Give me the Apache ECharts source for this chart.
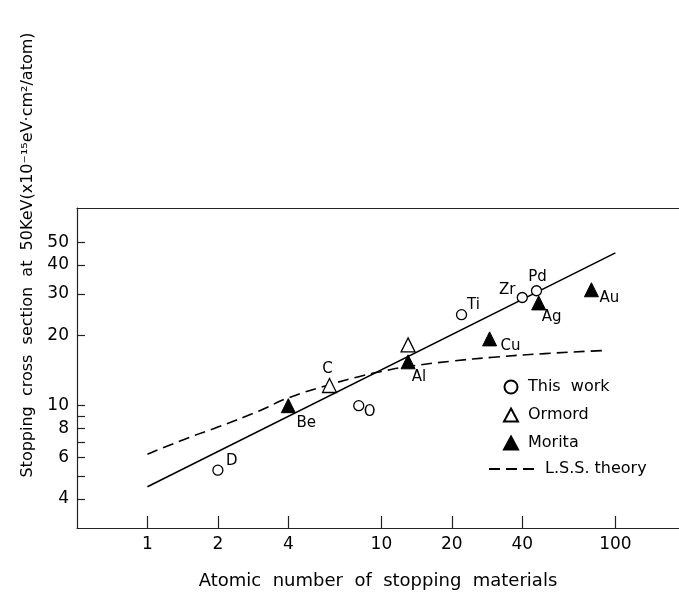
<!DOCTYPE html>
<html>
<head>
<meta charset="utf-8">
<script src="https://cdn.jsdelivr.net/npm/echarts@6/dist/echarts.min.js"></script>
<style>
html,body{margin:0;padding:0;background:#fff;}
#stopping{width:679px;height:596px;}
</style>
</head>
<body>
<div id="stopping"></div>
<script>
// values: atomic number Z, stopping cross section S
const thisWorkNames = ['D', 'O', 'Ti', 'Zr', 'Pd'];
const thisWorkZ = [2, 8, 22, 40, 46];
const thisWorkS = [5.3, 10.0, 24.5, 29.0, 31.0];

const ormordNames = ['C', 'Al'];
const ormordZ = [6, 13];
const ormordS = [12.2, 18.2];

const moritaNames = ['Be', 'Al', 'Cu', 'Ag', 'Au'];
const moritaZ = [4, 13, 29, 47, 79];
const moritaS = [10.0, 15.4, 19.3, 27.5, 31.3];

// solid straight line, end points
const fitZ = [1, 100];
const fitS = [4.5, 45];

// L.S.S. theory (dashed)
const lssZ = [1, 1.5, 2, 3, 4, 6, 8, 10, 13, 20, 30, 50, 88];
const lssS = [6.2, 7.3, 8.1, 9.5, 10.8, 12.3, 13.3, 14.0, 14.7, 15.5, 16.1, 16.7, 17.2];

const xTicks = [1, 2, 4, 10, 20, 40, 100];
const yLabels = [4, 6, 8, 10, 20, 30, 40, 50];
const yTicks = [4, 5, 6, 7, 8, 9, 10, 20, 30, 40, 50];

// where each element label sits relative to its marker
const labelOffsets = {
    'This work': {D: [14, -9], O: [11, 6], Ti: [12, -10], Zr: [-15, -7], Pd: [1, -14]},
    'Ormord': {C: [-2, -16]},
    'Morita': {Be: [18, 17], Al: [11, 15], Cu: [21, 7], Ag: [13, 14], Au: [18, 8]}
};
const legendText = {'This work': 'This  work', 'Ormord': 'Ormord', 'Morita': 'Morita', 'L.S.S. theory': 'L.S.S. theory'};

const font = 'DejaVu Sans';

function points(seriesName, names, zs, ss) {
    return zs.map(function (z, i) {
        const off = labelOffsets[seriesName][names[i]];
        return {
            name: names[i],
            value: [z, ss[i]],
            label: off ? {
                show: true,
                formatter: names[i],
                position: 'inside',
                offset: off,
                color: '#000',
                fontSize: 15,
                fontFamily: font
            } : {show: false}
        };
    });
}

function pairs(xs, ys) {
    return xs.map(function (x, i) { return [x, ys[i]]; });
}

let myChart = echarts.init(document.getElementById('stopping'));

const option = {
    animation: false,
    backgroundColor: '#fff',
    textStyle: {fontFamily: font, color: '#000'},
    grid: {left: 77, right: 0, top: 208, bottom: 68},
    legend: [
        {
            data: ['This work', 'Ormord', 'Morita'],
            formatter: function (n) { return legendText[n]; },
            orient: 'vertical',
            left: 498,
            top: 374,
            itemWidth: 14,
            itemHeight: 13,
            itemGap: 12,
            textStyle: {fontSize: 16, fontFamily: font, color: '#000', padding: [0, 0, 0, 5]}
        },
        {
            data: ['L.S.S. theory'],
            left: 483,
            top: 456,
            itemWidth: 51,
            itemHeight: 14,
            itemStyle: {opacity: 0},
            lineStyle: {opacity: 1},
            textStyle: {fontSize: 16, fontFamily: font, color: '#000'}
        }
    ],
    xAxis: [
        {
            type: 'log',
            logBase: 10,
            min: 0.5,
            max: 187,
            position: 'bottom',
            name: 'Atomic  number  of  stopping  materials',
            nameLocation: 'middle',
            nameGap: 44,
            nameTextStyle: {fontSize: 18, fontFamily: font, color: '#000'},
            axisLine: {lineStyle: {color: '#222', width: 1.2}},
            axisTick: {inside: true, length: 12, customValues: xTicks, lineStyle: {color: '#222', width: 1.2}},
            axisLabel: {customValues: xTicks, fontSize: 17, color: '#000', margin: 8},
            splitLine: {show: false},
            minorTick: {show: false}
        },
        {
            type: 'log',
            logBase: 10,
            min: 0.5,
            max: 187,
            position: 'top',
            axisLine: {lineStyle: {color: '#222', width: 1.2}},
            axisTick: {show: false},
            axisLabel: {show: false},
            splitLine: {show: false}
        }
    ],
    yAxis: {
        type: 'log',
        logBase: 10,
        min: 3,
        max: 70,
        axisLine: {show: true, lineStyle: {color: '#222', width: 1.2}},
        axisTick: {show: true, inside: true, length: 8, customValues: yTicks, lineStyle: {color: '#222', width: 1.2}},
        axisLabel: {customValues: yLabels, fontSize: 17, color: '#000', margin: 8},
        splitLine: {show: false}
    },
    series: [
        {
            name: 'fit',
            type: 'line',
            data: pairs(fitZ, fitS),
            symbol: 'none',
            lineStyle: {color: '#000', width: 1.6},
            silent: true
        },
        {
            name: 'L.S.S. theory',
            type: 'line',
            data: pairs(lssZ, lssS),
            smooth: true,
            symbol: 'none',
            itemStyle: {color: '#000'},
            lineStyle: {color: '#000', width: 1.6, type: [11, 6]}
        },
        {
            name: 'This work',
            type: 'scatter',
            symbol: 'circle',
            symbolSize: 10,
            itemStyle: {color: '#fff', borderColor: '#000', borderWidth: 1.3, opacity: 1},
            data: points('This work', thisWorkNames, thisWorkZ, thisWorkS),
            z: 5
        },
        {
            name: 'Ormord',
            type: 'scatter',
            symbol: 'triangle',
            symbolSize: 14,
            itemStyle: {color: '#fff', borderColor: '#000', borderWidth: 1.3, opacity: 1},
            data: points('Ormord', ormordNames, ormordZ, ormordS),
            z: 5
        },
        {
            name: 'Morita',
            type: 'scatter',
            symbol: 'triangle',
            symbolSize: 14,
            itemStyle: {color: '#000', borderColor: '#000', borderWidth: 1, opacity: 1},
            data: points('Morita', moritaNames, moritaZ, moritaS),
            z: 6
        }
    ],
    graphic: [
        {
            type: 'text',
            x: 28,
            y: 255,
            rotation: Math.PI / 2,
            style: {
                text: 'Stopping  cross  section  at  50KeV(x10⁻¹⁵eV·cm²/atom)',
                fontSize: 16,
                fontFamily: font,
                fill: '#000',
                textAlign: 'center',
                textVerticalAlign: 'middle'
            }
        }
    ]
};

myChart.setOption(option);
</script>
</body>
</html>
